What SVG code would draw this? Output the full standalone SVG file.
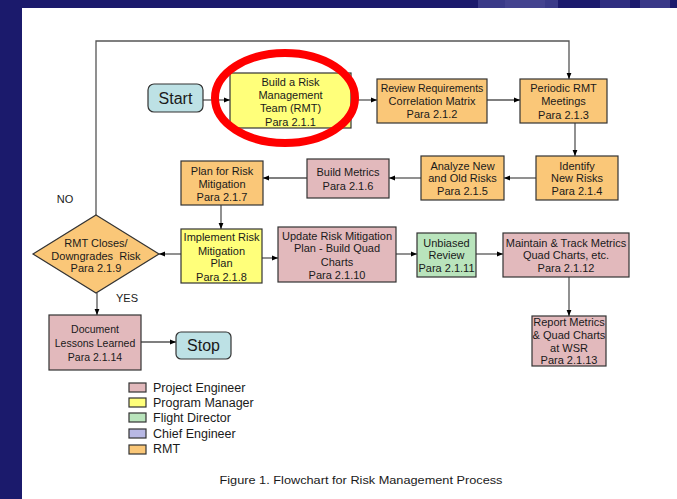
<svg xmlns="http://www.w3.org/2000/svg" width="677" height="499" viewBox="0 0 677 499">
<defs>
<marker id="ah" viewBox="0 0 10 10" refX="10" refY="5" markerWidth="6" markerHeight="6" orient="auto" markerUnits="userSpaceOnUse"><path d="M0,1 L10,5 L0,9 z" fill="#000"/></marker>
<clipPath id="topclip"><rect x="0" y="0" width="677" height="9"/></clipPath>
</defs>
<style>
text{font-family:"Liberation Sans",Arial,sans-serif;fill:#1a1a1a;text-anchor:middle}
.t{font-size:11px}
.s{font-size:10.5px}
.box{stroke:#333;stroke-width:1.2}
.pe{fill:#e2b9bc}
.pm{fill:#ffff7a}
.fd{fill:#b9e4bc}
.ce{fill:#b8b8e4}
.rmt{fill:#fac778}
.term{fill:#bde1e5;stroke:#333;stroke-width:1.2}
.c{fill:none;stroke:#555;stroke-width:1.3}
.ca{fill:none;stroke:#555;stroke-width:1.3;marker-end:url(#ah)}
.leg{font-size:12.5px;text-anchor:start}
</style>
<rect x="0" y="0" width="677" height="499" fill="#1b1a6c"/>
<g clip-path="url(#topclip)">
<rect x="478" y="0" width="80" height="9" fill="#3a3a88"/>
<rect x="505" y="0" width="40" height="9" fill="#44438f"/>
<rect x="600" y="0" width="30" height="9" fill="#2f2e80"/>
<rect x="640" y="0" width="30" height="9" fill="#3a3988"/>
</g>
<rect x="22" y="8" width="655" height="491" fill="#fff"/>

<g id="connectors">
<path class="ca" d="M203,100 H230"/>
<path class="ca" d="M351,100 H377"/>
<path class="ca" d="M487,100 H520"/>
<path class="ca" d="M96,215 V41 H569 V79"/>
<path class="ca" d="M575,123 V156"/>
<path class="ca" d="M536,178 H504"/>
<path class="ca" d="M421,178 H389"/>
<path class="ca" d="M307,178 H263"/>
<path class="ca" d="M221,205 V229"/>
<path class="ca" d="M181,254 H159"/>
<path class="ca" d="M262,258 H278"/>
<path class="ca" d="M396,254 H417"/>
<path class="ca" d="M476,254 H503"/>
<path class="ca" d="M569,277 V316"/>
<path class="ca" d="M97,293 V315"/>
<path class="ca" d="M141,342 H176"/>
</g>

<g id="start"><rect class="term" x="148" y="84" width="55" height="28" rx="6"/><text x="175.5" y="104" style="font-size:16px">Start</text></g>

<g id="n211"><rect class="box pm" x="230" y="73" width="121" height="55"/>
<text class="t" x="290.5" y="86">Build a Risk</text><text class="t" x="290.5" y="99">Management</text><text class="t" x="290.5" y="112">Team (RMT)</text><text class="t" x="290.5" y="126">Para 2.1.1</text></g>

<g id="n212"><rect class="box rmt" x="377" y="79" width="110" height="44"/>
<text class="s" x="432" y="92">Review Requirements</text><text class="t" x="432" y="105">Correlation Matrix</text><text class="t" x="432" y="118">Para 2.1.2</text></g>

<g id="n213"><rect class="box rmt" x="520" y="79" width="87" height="44"/>
<text class="t" x="563.5" y="92">Periodic RMT</text><text class="t" x="563.5" y="105">Meetings</text><text class="t" x="563.5" y="119">Para 2.1.3</text></g>

<g id="n214"><rect class="box rmt" x="536" y="156" width="82" height="44"/>
<text class="t" x="577" y="170">Identify</text><text class="t" x="577" y="182">New Risks</text><text class="t" x="577" y="195">Para 2.1.4</text></g>

<g id="n215"><rect class="box rmt" x="421" y="156" width="83" height="44"/>
<text class="t" x="462.5" y="170">Analyze New</text><text class="t" x="462.5" y="182">and Old Risks</text><text class="t" x="462.5" y="195">Para 2.1.5</text></g>

<g id="n216"><rect class="box pe" x="307" y="159" width="82" height="39"/>
<text class="t" x="348" y="176">Build Metrics</text><text class="t" x="348" y="190">Para 2.1.6</text></g>

<g id="n217"><rect class="box rmt" x="181" y="161" width="82" height="44"/>
<text class="t" x="222" y="175">Plan for Risk</text><text class="t" x="222" y="188">Mitigation</text><text class="t" x="222" y="201">Para 2.1.7</text></g>

<g id="n218"><rect class="box pm" x="181" y="229" width="81" height="54"/>
<text class="t" x="221.5" y="241">Implement Risk</text><text class="t" x="221.5" y="255">Mitigation</text><text class="t" x="221.5" y="267">Plan</text><text class="t" x="221.5" y="281">Para 2.1.8</text></g>

<g id="n219"><polygon class="box rmt" points="96,215 159,254 96,293 33,254"/>
<text class="t" x="96" y="247">RMT Closes/</text><text class="t" x="96" y="260" xml:space="preserve">Downgrades  Risk</text><text class="t" x="96" y="272">Para 2.1.9</text></g>

<g id="n2110"><rect class="box pe" x="278" y="227" width="118" height="55"/>
<text class="t" x="337" y="240">Update Risk Mitigation</text><text class="t" x="337" y="252">Plan - Build Quad</text><text class="t" x="337" y="266">Charts</text><text class="t" x="337" y="279">Para 2.1.10</text></g>

<g id="n2111"><rect class="box fd" x="417" y="233" width="59" height="44"/>
<text class="t" x="446.5" y="247">Unbiased</text><text class="t" x="446.5" y="259">Review</text><text class="t" x="446.5" y="272">Para 2.1.11</text></g>

<g id="n2112"><rect class="box pe" x="503" y="233" width="126" height="44"/>
<text class="t" x="566" y="247">Maintain &amp; Track Metrics</text><text class="t" x="566" y="259">Quad Charts, etc.</text><text class="t" x="566" y="272">Para 2.1.12</text></g>

<g id="n2113"><rect class="box pe" x="532" y="316" width="74" height="50"/>
<text class="t" x="569" y="326">Report Metrics</text><text class="t" x="569" y="339">&amp; Quad Charts</text><text class="t" x="569" y="352">at WSR</text><text class="t" x="569" y="364">Para 2.1.13</text></g>

<g id="n2114"><rect class="box pe" x="49" y="315" width="92" height="55"/>
<text class="s" x="95" y="333">Document</text><text class="s" x="95" y="347">Lessons Learned</text><text class="s" x="95" y="361">Para 2.1.14</text></g>

<g id="stop"><rect class="term" x="176" y="332" width="55" height="27" rx="5"/><text x="203.5" y="351" style="font-size:16px">Stop</text></g>

<g id="labels"><text class="t" x="65" y="203">NO</text><text class="t" x="127" y="302">YES</text></g>

<g id="highlight"><ellipse cx="285" cy="98" rx="70" ry="45" fill="none" stroke="#ff0000" stroke-width="8"/></g>

<g id="legend">
<rect class="box pe" x="129" y="383" width="17" height="9"/><text class="leg" x="153" y="392">Project Engineer</text>
<rect class="box pm" x="129" y="398" width="17" height="9"/><text class="leg" x="153" y="407">Program Manager</text>
<rect class="box fd" x="129" y="413" width="17" height="9"/><text class="leg" x="153" y="422">Flight Director</text>
<rect class="box ce" x="129" y="429" width="17" height="9"/><text class="leg" x="153" y="438">Chief Engineer</text>
<rect class="box rmt" x="129" y="445" width="17" height="9"/><text class="leg" x="153" y="453">RMT</text>
</g>

<text x="361" y="484" style="font-size:11px" textLength="283" lengthAdjust="spacingAndGlyphs">Figure 1. Flowchart for Risk Management Process</text>
</svg>
